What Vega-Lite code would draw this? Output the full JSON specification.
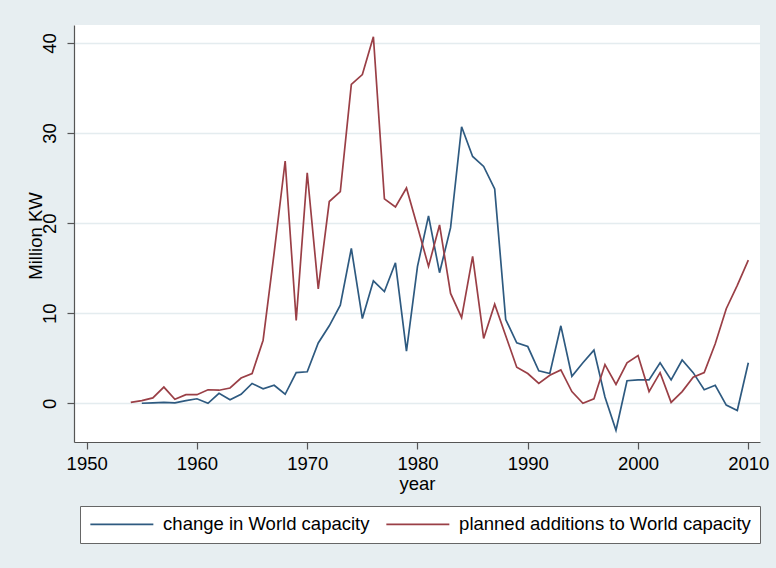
{
  "$schema": "https://vega.github.io/schema/vega-lite/v6.json",
  "width": 686,
  "height": 417,
  "autosize": {"type": "none"},
  "padding": {"left": 74, "top": 25, "right": 16, "bottom": 126},
  "background": "#E7EEF1",
  "config": {
    "font": "Liberation Sans",
    "view": {"fill": "white", "stroke": null},
    "axis": {
      "domainColor": "#555555",
      "domainWidth": 1.2,
      "tickColor": "#555555",
      "tickWidth": 1.2,
      "tickSize": 7,
      "labelColor": "black",
      "titleColor": "black",
      "labelFontSize": 18.5,
      "titleFontSize": 18.5,
      "titleFontWeight": "normal",
      "labelFont": "Liberation Sans",
      "titleFont": "Liberation Sans"
    },
    "legend": {
      "labelFont": "Liberation Sans"
    }
  },
  "data": {
    "values": [
      {"year": 1954, "change": null, "planned": 0.1},
      {"year": 1955, "change": 0.0, "planned": 0.3},
      {"year": 1956, "change": 0.05, "planned": 0.6},
      {"year": 1957, "change": 0.1, "planned": 1.8},
      {"year": 1958, "change": 0.05, "planned": 0.45},
      {"year": 1959, "change": 0.3, "planned": 0.95},
      {"year": 1960, "change": 0.5, "planned": 0.95},
      {"year": 1961, "change": 0.0, "planned": 1.5},
      {"year": 1962, "change": 1.1, "planned": 1.45},
      {"year": 1963, "change": 0.4, "planned": 1.7},
      {"year": 1964, "change": 1.0, "planned": 2.8},
      {"year": 1965, "change": 2.2, "planned": 3.3},
      {"year": 1966, "change": 1.6, "planned": 7.0},
      {"year": 1967, "change": 2.0, "planned": 16.7},
      {"year": 1968, "change": 1.0, "planned": 26.9},
      {"year": 1969, "change": 3.4, "planned": 9.2},
      {"year": 1970, "change": 3.5, "planned": 25.6},
      {"year": 1971, "change": 6.7, "planned": 12.7},
      {"year": 1972, "change": 8.6, "planned": 22.4},
      {"year": 1973, "change": 10.9, "planned": 23.5},
      {"year": 1974, "change": 17.2, "planned": 35.4},
      {"year": 1975, "change": 9.4, "planned": 36.5},
      {"year": 1976, "change": 13.6, "planned": 40.7},
      {"year": 1977, "change": 12.4, "planned": 22.7},
      {"year": 1978, "change": 15.6, "planned": 21.8},
      {"year": 1979, "change": 5.8, "planned": 23.9},
      {"year": 1980, "change": 15.2, "planned": 19.6},
      {"year": 1981, "change": 20.8, "planned": 15.2},
      {"year": 1982, "change": 14.5, "planned": 19.8},
      {"year": 1983, "change": 19.5, "planned": 12.2},
      {"year": 1984, "change": 30.7, "planned": 9.5},
      {"year": 1985, "change": 27.4, "planned": 16.3},
      {"year": 1986, "change": 26.3, "planned": 7.2},
      {"year": 1987, "change": 23.8, "planned": 11.0},
      {"year": 1988, "change": 9.3, "planned": 7.5},
      {"year": 1989, "change": 6.7, "planned": 4.0},
      {"year": 1990, "change": 6.3, "planned": 3.3},
      {"year": 1991, "change": 3.6, "planned": 2.2},
      {"year": 1992, "change": 3.3, "planned": 3.1},
      {"year": 1993, "change": 8.6, "planned": 3.7},
      {"year": 1994, "change": 3.0, "planned": 1.3},
      {"year": 1995, "change": 4.5, "planned": 0.0},
      {"year": 1996, "change": 5.9, "planned": 0.5},
      {"year": 1997, "change": 0.7, "planned": 4.3},
      {"year": 1998, "change": -3.0, "planned": 2.1},
      {"year": 1999, "change": 2.5, "planned": 4.5},
      {"year": 2000, "change": 2.6, "planned": 5.3},
      {"year": 2001, "change": 2.6, "planned": 1.3},
      {"year": 2002, "change": 4.5, "planned": 3.4},
      {"year": 2003, "change": 2.6, "planned": 0.1},
      {"year": 2004, "change": 4.8, "planned": 1.3},
      {"year": 2005, "change": 3.4, "planned": 2.9},
      {"year": 2006, "change": 1.5, "planned": 3.4},
      {"year": 2007, "change": 2.0, "planned": 6.6},
      {"year": 2008, "change": -0.2, "planned": 10.5},
      {"year": 2009, "change": -0.8, "planned": 13.1},
      {"year": 2010, "change": 4.5, "planned": 15.9}
    ]
  },
  "transform": [
    {"fold": ["change", "planned"], "as": ["series", "value"]}
  ],
  "mark": {"type": "line", "strokeWidth": 1.7, "interpolate": "linear"},
  "encoding": {
    "x": {
      "field": "year",
      "type": "quantitative",
      "scale": {"domain": [1948.85, 2011.06], "nice": false, "zero": false},
      "axis": {
        "title": "year",
        "values": [1950, 1960, 1970, 1980, 1990, 2000, 2010],
        "format": "d",
        "grid": false,
        "labelPadding": 5,
        "labelFlush": false,
        "titleY": 47,
        "titleBaseline": "alphabetic"
      }
    },
    "y": {
      "field": "value",
      "type": "quantitative",
      "scale": {"domain": [-4.3, 42.0], "nice": false, "zero": false},
      "axis": {
        "title": "Million KW",
        "values": [0, 10, 20, 30, 40],
        "grid": true,
        "gridColor": "#E4ECEF",
        "gridWidth": 1.6,
        "labelAngle": 270,
        "labelAlign": "center",
        "labelBaseline": "alphabetic",
        "labelPadding": 12,
        "labelFlush": false,
        "titleAngle": 270,
        "titleAlign": "center",
        "titleBaseline": "alphabetic",
        "titleX": -33,
        "titleY": 210.5
      }
    },
    "color": {
      "field": "series",
      "type": "nominal",
      "scale": {"domain": ["change", "planned"], "range": ["#2E5A80", "#9A3F46"]},
      "legend": {
        "title": null,
        "orient": "none",
        "legendX": 6,
        "legendY": 481,
        "direction": "horizontal",
        "fillColor": "white",
        "strokeColor": "#666666",
        "padding": 9,
        "symbolType": "M-4,0H4",
        "symbolSize": 248,
        "symbolOffset": 23.6,
        "symbolStrokeWidth": 1.6,
        "labelFontSize": 18.5,
        "labelColor": "black",
        "labelOffset": 32,
        "columnPadding": 13,
        "labelLimit": 400,
        "labelExpr": "datum.label == 'change' ? 'change in World capacity' : 'planned additions to World capacity'"
      }
    }
  }
}
